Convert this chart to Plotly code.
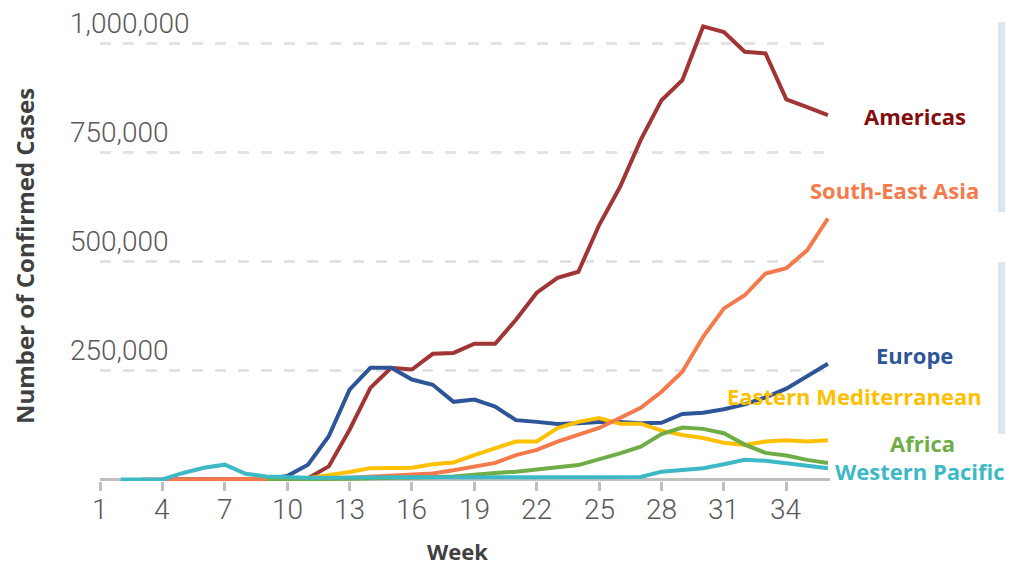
import plotly.graph_objects as go

weeks = list(range(1, 37))

# values by week 1..36 (None = no data)
americas = [None, None, None, 0, 0, 0, 0, 0, 0, 1000, 3000, 30000, 114000, 210000, 256000, 252000,
            288000, 290000, 311000, 311000, 366000, 428000, 462000, 476000, 583000, 670000,
            778000, 869000, 915000, 1038000, 1025000, 980000, 976000, 871000, 853000, 835000]
europe = [None, None, None, 0, 0, 0, 0, 0, 1000, 8000, 34000, 99000, 206000, 256000, 256000, 229000,
          217000, 178000, 183000, 167000, 136000, 132000, 127000, 129000, 132000, 132000,
          129000, 130000, 150000, 153000, 161000, 172000, 188000, 208000, 236000, 265000]
eastern_med = [None, None, None, None, None, None, None, 0, 0, 1000, 3000, 9000, 17000, 26000, 26000,
               27000, 35000, 39000, 56000, 72000, 87000, 87000, 118000, 132000, 141000, 128000,
               128000, 112000, 102000, 95000, 84000, 79000, 87000, 90000, 87000, 90000]
south_east_asia = [None, None, 0, 0, 0, 0, 0, 0, 0, 0, 1000, 2000, 4000, 6000, 8000, 10000, 14000,
                   21000, 29000, 38000, 56000, 68000, 87000, 102000, 118000, 141000, 164000,
                   201000, 247000, 327000, 392000, 422000, 472000, 484000, 525000, 598000]
africa = [None, None, None, None, None, None, None, None, 0, 0, 500, 1000, 2000, 3000, 3000, 4000,
          5000, 7000, 12000, 15000, 18000, 22000, 28000, 33000, 46000, 60000, 75000, 104000,
          119000, 116000, 106000, 80000, 61000, 55000, 45000, 38000]
western_pacific = [None, 0, 0, 0, 15000, 27000, 34000, 13000, 7000, 5000, 4000, 4000, 5000, 5000,
                   5000, 5000, 5000, 5000, 6000, 6000, 6000, 6000, 5000, 5000, 5000, 5000, 6000,
                   18000, 22000, 26000, 35000, 45000, 43000, 38000, 33000, 26000]

series_names = ["Americas", "Europe", "Eastern Mediterranean", "South-East Asia", "Africa", "Western Pacific"]
series_values = [americas, europe, eastern_med, south_east_asia, africa, western_pacific]
line_colors = ["#A03535", "#2E5597", "#FFC000", "#F47A4C", "#70AD47", "#3DB9C5"]
label_colors = ["#840C0C", "#2E5597", "#FFC000", "#F47A4C", "#70AD47", "#3DB9C5"]

x_tickvals = [1, 4, 7, 10, 13, 16, 19, 22, 25, 28, 31, 34]
y_tickvals = [250000, 500000, 750000, 1000000]
y_ticktext = ["250,000", "500,000", "750,000", "1,000,000"]

# page body has an 8px margin: figure is drawn 8px right/down of the window origin
OFF = 8
W, H = 1013 - OFF, 567 - OFF
PL, PR = 100, 830          # plot left/right in window pixels
PB = 481                   # plot bottom in window pixels
PH = PB - OFF              # plot height (top margin 0)
PW = PR - PL


def px(sx):
    return (sx - PL) / PW


def py(sy):
    return (PB - sy) / PH


fig = go.Figure()
for name, vals, col in zip(series_names, series_values, line_colors):
    fig.add_trace(go.Scatter(x=weeks, y=vals, mode="lines", name=name,
                             line=dict(color=col, width=4), connectgaps=False))

TICKFONT = dict(family="Roboto, Liberation Sans", size=28, color="#595959", weight=300)
BOLD = "Open Sans, Lato, DejaVu Sans"

fig.update_layout(
    width=W, height=H,
    margin=dict(l=PL - OFF, r=W - (PR - OFF), t=0, b=H - (PB - OFF)),
    paper_bgcolor="white", plot_bgcolor="white",
    showlegend=False,
    xaxis=dict(range=[1, 36.1], tickmode="array", tickvals=x_tickvals, showticklabels=False,
               showgrid=False, zeroline=False, showline=False,
               ticks="outside", ticklen=9, tickwidth=3, tickcolor="#BFBFBF"),
    yaxis=dict(range=[-3437, 1080200], tickmode="array", tickvals=y_tickvals,
               showticklabels=False, showgrid=True, gridcolor="#E3E3E3", gridwidth=3,
               griddash="11px,12px", zeroline=True, zerolinecolor="#BFBFBF", zerolinewidth=3,
               showline=False),
)

annotations = []
for v, t in zip(y_tickvals, y_ticktext):
    annotations.append(dict(x=px(68), xref="paper", y=v, yref="y", text=t, showarrow=False,
                            xanchor="left", yanchor="middle", yshift=20, font=TICKFONT))
for v in x_tickvals:
    annotations.append(dict(x=v, xref="x", y=py(509), yref="paper", text=str(v), showarrow=False,
                            xanchor="center", yanchor="middle", font=TICKFONT))

label_pos = {"Americas": (915, 116), "South-East Asia": (895, 190), "Europe": (914, 355),
             "Eastern Mediterranean": (855, 396), "Africa": (922, 443), "Western Pacific": (920, 471)}
for name, col in zip(series_names, label_colors):
    sx, sy = label_pos[name]
    annotations.append(dict(x=px(sx), xref="paper", y=py(sy), yref="paper", text="<b>%s</b>" % name,
                            showarrow=False, xanchor="center", yanchor="middle",
                            font=dict(family=BOLD, size=22, color=col)))

annotations.append(dict(x=px(457), xref="paper", y=py(551), yref="paper",
                        text="<b>Week</b>", showarrow=False, xanchor="center", yanchor="middle",
                        font=dict(family=BOLD, size=22, color="#404040")))
annotations.append(dict(x=px(25), xref="paper", y=py(256), yref="paper",
                        text="<b>Number of Confirmed Cases</b>", showarrow=False, textangle=-90,
                        xanchor="center", yanchor="middle",
                        font=dict(family=BOLD, size=24, color="#404040")))
fig.update_layout(annotations=annotations)

# light blue side bars (the last few window pixels are not visible, so keep them just inside)
for y0, y1 in [(22, 212), (262, 434)]:
    fig.add_shape(type="rect", xref="paper", yref="paper",
                  x0=px(998), x1=px(1005), y0=py(y1), y1=py(y0),
                  fillcolor="#DCE6F2", line=dict(width=0), layer="above")

fig.write_html("out.html")
